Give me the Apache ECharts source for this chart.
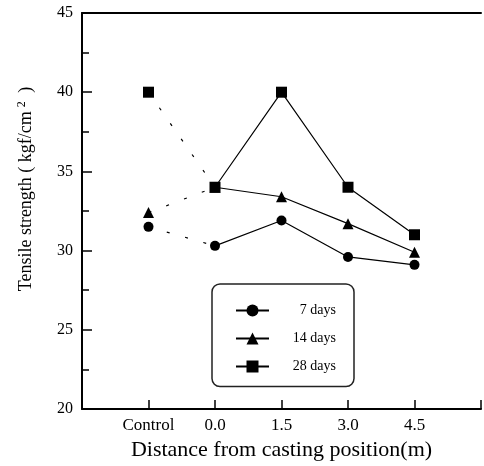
<!DOCTYPE html>
<html>
<head>
<meta charset="utf-8">
<script src="https://cdn.jsdelivr.net/npm/echarts@6/dist/echarts.min.js"></script>
<style>
    html, body { margin: 0; padding: 0; background: #fff; }
    #chart { width: 484px; height: 466px; }
</style>
</head>
<body>
<div id="chart"></div>
<script>
// x positions (m); Control is drawn one step left of 0.0
const xPositions = [-1.5, 0, 1.5, 3.0, 4.5];
const xLabels = ['Control', '0.0', '1.5', '3.0', '4.5'];

const days7 = [31.5, 30.3, 31.9, 29.6, 29.1];
const days14 = [32.4, 34.0, 33.4, 31.7, 29.9];
const days28 = [40.0, 34.0, 40.0, 34.0, 31.0];

const seriesNames = ['7 days', '14 days', '28 days'];
const seriesSymbols = ['circle', 'triangle', 'rect'];
const seriesSizes = [10, 11, 11];

const font = 'Liberation Serif';

function solidSeries(name, values, symbol, size) {
    return {
        name: name,
        type: 'line',
        data: xPositions.slice(1).map((x, i) => [x, values[i + 1]]),
        symbol: symbol,
        symbolSize: size,
        lineStyle: { color: '#000', width: 1.2 },
        itemStyle: { color: '#000' },
        z: 3
    };
}

function dottedSeries(name, values, symbol, size) {
    return {
        name: name + ' control',
        type: 'line',
        data: [
            [xPositions[0], values[0]],
            { value: [xPositions[1], values[1]], symbol: 'none' }
        ],
        symbol: symbol,
        symbolSize: size,
        lineStyle: { color: '#000', width: 1.2, type: [3, 16] },
        itemStyle: { color: '#000' },
        z: 2
    };
}

const allValues = [days7, days14, days28];
let series = [];
for (let i = 0; i < 3; i++) {
    series.push(dottedSeries(seriesNames[i], allValues[i], seriesSymbols[i], seriesSizes[i]));
    series.push(solidSeries(seriesNames[i], allValues[i], seriesSymbols[i], seriesSizes[i]));
}

const chart = echarts.init(document.getElementById('chart'));
chart.setOption({
    animation: false,
    textStyle: { fontFamily: font, color: '#000' },
    grid: { left: 82, top: 13, right: -3, bottom: 57, containLabel: false },
    xAxis: [{
        type: 'value',
        min: -3,
        max: 6,
        interval: 1.5,
        name: 'Distance from casting position(m)',
        nameLocation: 'middle',
        nameGap: 26,
        nameTextStyle: { fontFamily: font, fontSize: 22, color: '#000' },
        axisLine: { onZero: false, lineStyle: { color: '#000', width: 2 } },
        axisTick: { inside: true, length: 9, lineStyle: { color: '#000', width: 1.5 } },
        axisLabel: {
            margin: 8,
            fontFamily: font,
            fontSize: 17,
            color: '#000',
            formatter: v => {
                const idx = xPositions.indexOf(v);
                return idx >= 0 ? xLabels[idx] : '';
            }
        },
        splitLine: { show: false }
    }, {
        type: 'value',
        position: 'top',
        min: -3,
        max: 6,
        axisLine: { show: true, onZero: false, lineStyle: { color: '#000', width: 2 } },
        axisTick: { show: false },
        axisLabel: { show: false },
        splitLine: { show: false }
    }],
    yAxis: {
        type: 'value',
        min: 20,
        max: 45,
        interval: 5,
        name: 'Tensile strength ( kgf/cm{sup|2} )',
        nameLocation: 'middle',
        nameGap: 46,
        nameTextStyle: {
            fontFamily: font,
            fontSize: 18,
            color: '#000',
            padding: [0, 0, 0, 44],
            rich: {
                sup: { fontFamily: font, fontSize: 12, verticalAlign: 'top', padding: [0, 4, 8, 4] }
            }
        },
        axisLine: { show: true, onZero: false, lineStyle: { color: '#000', width: 2 } },
        axisTick: { inside: true, length: 10, lineStyle: { color: '#000', width: 1.5 } },
        minorTick: { show: true, splitNumber: 2, length: 7, lineStyle: { color: '#000', width: 1.5 } },
        axisLabel: { margin: 9, fontFamily: font, fontSize: 16, color: '#000' },
        splitLine: { show: false }
    },
    legend: {
        data: seriesNames,
        orient: 'vertical',
        left: 212,
        top: 284,
        padding: [19.5, 18, 13, 23],
        itemGap: 14,
        itemWidth: 33,
        itemHeight: 15,
        borderColor: '#222',
        borderWidth: 1.5,
        borderRadius: 8,
        formatter: name => '{t|' + name + '}',
        textStyle: {
            fontFamily: font,
            fontSize: 14,
            color: '#000',
            rich: {
                t: { width: 62, align: 'right', fontFamily: font, fontSize: 14, lineHeight: 15 }
            }
        }
    },
    series: series
});
</script>
</body>
</html>
